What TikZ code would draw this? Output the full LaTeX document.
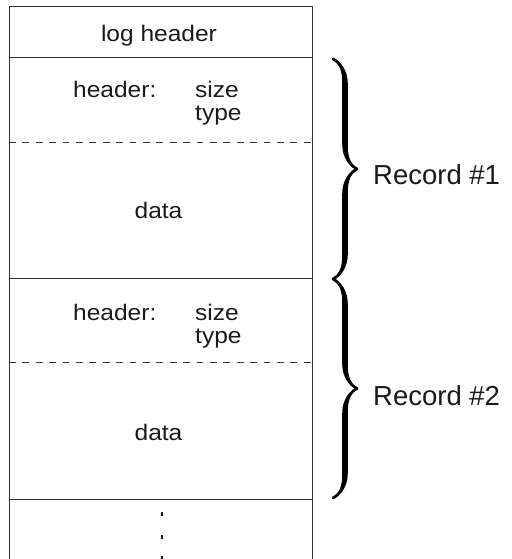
\documentclass[tikz,border=0pt]{standalone}
\usepackage{fontspec}
\setmainfont{Liberation Sans}[FakeStretch=1.09]
\newfontfamily\recfont{Liberation Sans}
\usepackage{xcolor}
\usepackage{tikz}
\usetikzlibrary{positioning, decorations.pathreplacing, calligraphy}
\definecolor{ink}{HTML}{1A1A1A}
\definecolor{rule}{HTML}{333333}
\tikzset{
  part/.style     = {rectangle, inner sep=0pt, minimum width=303pt, outer sep=0pt},
  label/.style    = {font=\fontsize{22.5}{22.5}\selectfont, text=ink, inner sep=0pt},
  reclabel/.style = {font=\recfont\fontsize{27.5}{27.5}\selectfont, text=ink, inner sep=0pt},
  divider/.style  = {draw=rule, line width=0.9pt},
  divdash/.style  = {divider, dash pattern=on 6.7pt off 6.7pt},
  record/.style   = {decorate, decoration={calligraphic brace, amplitude=24pt},
                     draw=ink, line width=5.5pt},
}

\begin{document}
\begin{tikzpicture}[x=1pt, y=-1pt]
  \useasboundingbox (0,0) rectangle (511,559);

  % stacked parts of the log
  \node[part, minimum height=51pt, anchor=north] (loghdr) at (160.5,6) {};
  \node[part, minimum height=85pt, below=0pt of loghdr] (hdr1) {};
  \node[part, minimum height=136pt, below=0pt of hdr1] (dat1) {};
  \node[part, minimum height=84pt, below=0pt of dat1] (hdr2) {};
  \node[part, minimum height=137pt, below=0pt of hdr2] (dat2) {};
  \node[part, minimum height=70pt, below=0pt of dat2] (more) {};

  % outline, open at the bottom
  \draw[divider] (more.south west) -- (loghdr.north west) -- (loghdr.north east) -- (more.south east);
  \draw[divider] (loghdr.south west) -- (loghdr.south east);
  \draw[divdash] (hdr1.south west) -- (hdr1.south east);
  \draw[divider] (dat1.south west) -- (dat1.south east);
  \draw[divdash] (hdr2.south west) -- (hdr2.south east);
  \draw[divider] (dat2.south west) -- (dat2.south east);

  % texts
  \node[label, anchor=base] (tloghdr) at (159,42) {log header};
  \node[label, anchor=base west] (thdr1) at (73,98) {header:};
  \node[label, anchor=base west] (tsize1) at (195,98) {size};
  \node[label, anchor=base west] (ttype1) at (195,121) {type};
  \node[label, anchor=base] (tdat1) at (158.5,218) {data};
  \node[label, anchor=base west] (thdr2) at (73,320) {header:};
  \node[label, anchor=base west] (tsize2) at (195,320) {size};
  \node[label, anchor=base west] (ttype2) at (195,343) {type};
  \node[label, anchor=base] (tdat2) at (158.5,440) {data};

  % continuation dots
  \foreach \y in {514,537,558}
    \fill[ink] (161.3,\y-1.8) rectangle (162.7,\y+1.8);

  % records
  \coordinate (r1top) at (333,59);
  \coordinate (r1bot) at (333,279);
  \coordinate (r2top) at (333,279);
  \coordinate (r2bot) at (333,498);
  \draw[record] (r1top) -- (r1bot);
  \draw[record] (r2top) -- (r2bot);
  \node[reclabel, anchor=base west] (rec1) at (373,184) {Record \#1};
  \node[reclabel, anchor=base west] (rec2) at (373,405) {Record \#2};
\end{tikzpicture}
\end{document}
